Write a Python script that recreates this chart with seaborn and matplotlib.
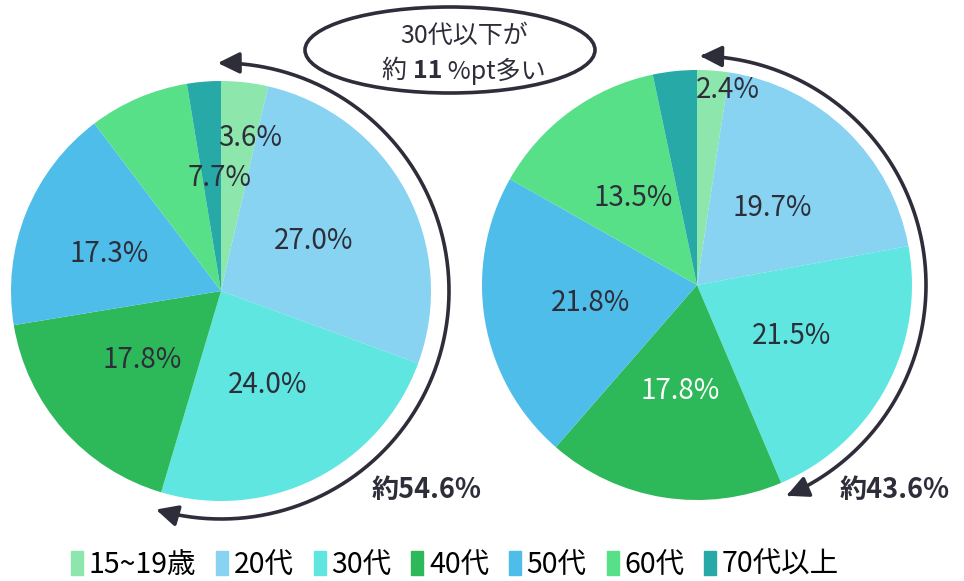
import numpy as np
import matplotlib
matplotlib.use("Agg")
import matplotlib.pyplot as plt
import seaborn as sns
from matplotlib.patches import Ellipse, FancyArrowPatch, Rectangle
from matplotlib.path import Path

# ---------------- data ----------------
categories = ["15~19歳", "20代", "30代", "40代", "50代", "60代", "70代以上"]
left_values = [3.6, 27.0, 24.0, 17.8, 17.3, 7.7, 2.6]
right_values = [2.4, 19.7, 21.5, 17.8, 21.8, 13.5, 3.3]
left_labels = ["3.6%", "27.0%", "24.0%", "17.8%", "17.3%", "7.7%", ""]
right_labels = ["2.4%", "19.7%", "21.5%", "17.8%", "21.8%", "13.5%", ""]
left_total_text = "約54.6%"
right_total_text = "約43.6%"
bubble_line1 = "30代以下が"
bubble_line2 = ["約 ", "11", " %pt多い"]
colors = ["#8DE7AC", "#87D3F1", "#5FE6E0", "#2DB859", "#4EBDE9", "#58E089", "#27AAA7"]

sns.set_theme(style="white")
plt.rcParams["font.family"] = ["Noto Sans CJK JP", "DejaVu Sans"]

W, H = 964, 581
fig = plt.figure(figsize=(W / 100, H / 100), dpi=100)
ax = fig.add_axes([0, 0, 1, 1])

palette = sns.color_palette(colors)
dark = "#2E2E3A"


def draw_pie(values, labels, center, radius, label_pos, white_idx=()):
    wedges, _ = ax.pie(values, colors=palette, startangle=90, counterclock=False,
                       center=center, radius=radius, frame=True,
                       wedgeprops=dict(linewidth=0))
    for i, (w, lab) in enumerate(zip(wedges, labels)):
        if not lab:
            continue
        mid = 0.5 * (w.theta1 + w.theta2)
        frac, dang = label_pos.get(i, (0.5, 0.0))
        a = np.deg2rad(mid + dang)
        x = center[0] + frac * radius * np.cos(a)
        y = center[1] + frac * radius * np.sin(a)
        ax.text(x, y, lab, ha="center", va="center", fontsize=20,
                color="white" if i in white_idx else dark)
    return wedges


def draw_arc(center, r, frac_sum, start=90.5):
    t2 = 90 - 360 * frac_sum / 100.0
    th = np.deg2rad(np.linspace(start, t2, 200))
    verts = np.column_stack([center[0] + r * np.cos(th), center[1] + r * np.sin(th)])
    arr = FancyArrowPatch(path=Path(verts),
                          arrowstyle="<|-|>,head_length=0.65,head_width=0.32",
                          mutation_scale=20, color=dark, lw=2.6,
                          shrinkA=0, shrinkB=0)
    ax.add_patch(arr)


lc = (221, 290)
rc = (697, 296)
draw_pie(left_values, left_labels, lc, 210,
         {0: (0.74, -4.3), 4: (0.56, 3.4), 5: (0.54, -22.7)})
draw_pie(right_values, right_labels, rc, 215,
         {0: (0.92, -4.7)}, white_idx=(3,))
ax.set_xlim(0, W)
ax.set_ylim(0, H)
ax.set_aspect("auto")
ax.axis("off")

draw_arc(lc, 228, sum(left_values[:3]), start=90.8)
draw_arc(rc, 229, sum(right_values[:3]), start=89.2)

ax.text(372, 581 - 490, left_total_text, ha="left", va="center", fontsize=19.5,
        fontweight="bold", color=dark)
ax.text(840, 581 - 490, right_total_text, ha="left", va="center", fontsize=19.5,
        fontweight="bold", color=dark)

# speech bubble
ax.add_patch(Ellipse((450, 581 - 50), 290, 86, fill=False, lw=2.6, ec=dark, zorder=5))
ax.text(464, 581 - 36, bubble_line1, ha="center", va="center", fontsize=18, color=dark)
t0 = ax.text(382, 581 - 71, bubble_line2[0], ha="left", va="center", fontsize=18, color=dark)
t1 = ax.annotate(bubble_line2[1], xy=(1, 0.5), xycoords=t0, ha="left", va="center",
                 fontsize=18, fontweight="bold", color=dark)
t2 = ax.annotate(bubble_line2[2], xy=(1, 0.5), xycoords=t1, ha="left", va="center",
                 fontsize=18, color=dark)

# legend
handles = [Rectangle((0, 0), 1, 1, color=c) for c in palette]
leg = fig.legend(handles, categories, loc="center", bbox_to_anchor=(455 / W, 1 - 565 / H),
                 ncol=7, frameon=False, fontsize=20.5, handlelength=0.42, handleheight=0.9,
                 handletextpad=0.2, columnspacing=0.7, borderpad=0)
for t in leg.get_texts():
    t.set_color("black")

fig.savefig("out.png", dpi=100)
